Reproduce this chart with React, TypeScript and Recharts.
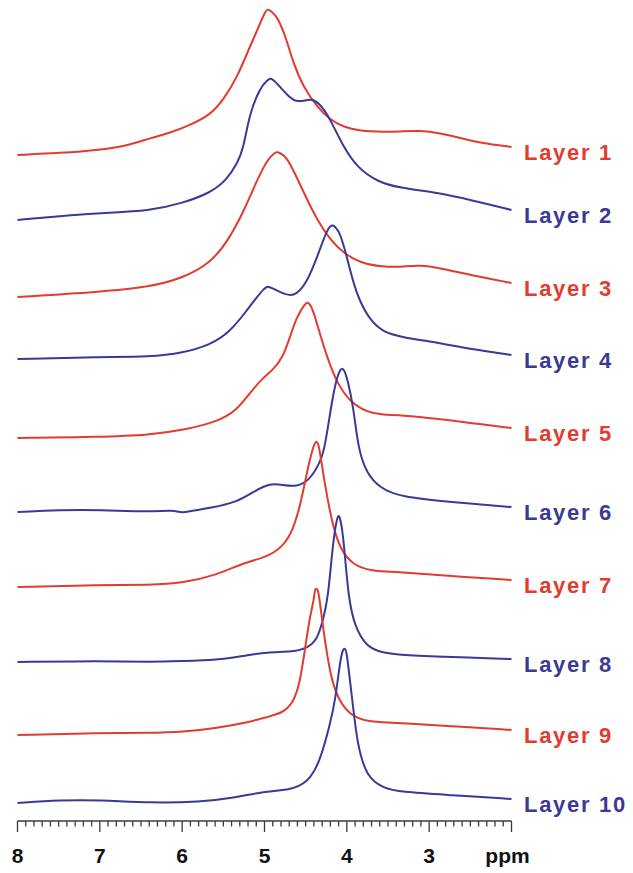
import React from 'react';
import { LineChart, Line, XAxis, YAxis } from 'recharts';

// Each layer: [chemical shift (ppm), stacked intensity (a.u.)]
const layer1: [number, number][] = [
  [8.0, 666], [7.48, 668], [7.0, 671], [6.63, 676], [6.39, 683], [6.15, 688], [5.9, 696], [5.66, 706],
  [5.5, 721], [5.33, 744], [5.18, 774], [5.05, 798], [4.99, 810], [4.96, 812], [4.92, 810], [4.84, 804],
  [4.73, 781], [4.65, 758], [4.53, 734], [4.36, 714], [4.2, 701], [4.04, 694], [3.84, 690], [3.56, 689],
  [3.35, 689.5], [3.11, 690.5], [2.87, 688], [2.62, 683], [2.38, 678], [2.0, 674],
];
const layer2: [number, number][] = [
  [8.0, 601], [7.48, 605], [7.0, 608], [6.39, 610], [5.99, 618], [5.66, 628], [5.46, 641], [5.33, 658],
  [5.26, 671], [5.18, 708], [5.05, 734], [4.96, 741], [4.93, 743], [4.89, 741], [4.81, 734], [4.69, 723],
  [4.61, 719], [4.48, 721], [4.41, 722], [4.29, 714], [4.18, 698], [4.04, 674], [3.88, 654], [3.63, 639],
  [3.35, 633], [2.87, 628], [2.5, 621], [2.0, 611],
];
const layer3: [number, number][] = [
  [8.0, 524], [7.0, 529], [6.39, 534], [5.99, 543], [5.66, 558], [5.46, 578], [5.26, 608], [5.09, 641],
  [4.97, 661], [4.88, 668], [4.85, 669], [4.81, 668], [4.73, 664], [4.61, 644], [4.48, 621], [4.36, 601],
  [4.2, 581], [4.04, 568], [3.84, 558], [3.56, 554], [3.35, 554], [3.11, 556], [2.87, 553], [2.5, 546],
  [2.0, 538],
];
const layer4: [number, number][] = [
  [8.0, 462], [7.0, 464], [6.39, 464], [5.99, 468], [5.66, 476], [5.42, 489], [5.21, 511], [5.12, 521],
  [5.0, 533], [4.96, 535], [4.91, 533], [4.81, 529], [4.65, 523], [4.48, 538], [4.33, 571], [4.24, 591],
  [4.2, 595], [4.17, 596], [4.14, 594], [4.08, 588], [4.0, 564], [3.92, 538], [3.85, 521], [3.72, 501],
  [3.56, 489], [3.35, 484], [2.87, 478], [2.5, 472], [2.0, 466],
];
const layer5: [number, number][] = [
  [8.0, 383], [7.0, 384], [6.39, 386], [5.99, 391], [5.58, 399], [5.33, 411], [5.18, 428], [5.02, 443],
  [4.9, 451], [4.78, 463], [4.69, 484], [4.61, 504], [4.51, 517], [4.48, 519], [4.45, 517], [4.41, 511],
  [4.33, 488], [4.24, 464], [4.12, 438], [3.96, 419], [3.76, 409], [3.56, 406], [3.35, 406], [2.87, 402],
  [2.5, 398], [2.0, 393],
];
const layer6: [number, number][] = [
  [8.0, 309], [7.48, 311], [7.0, 311], [6.39, 309], [6.11, 311], [6.0, 308], [5.9, 310], [5.66, 313],
  [5.33, 319], [5.14, 329], [4.93, 338], [4.78, 336], [4.61, 334], [4.45, 341], [4.33, 358], [4.27, 371],
  [4.18, 421], [4.12, 444], [4.08, 451], [4.06, 453], [4.03, 451], [3.99, 441], [3.92, 414], [3.86, 371],
  [3.76, 348], [3.6, 333], [3.35, 324], [2.75, 319], [2.0, 314],
];
const layer7: [number, number][] = [
  [8.0, 234], [7.0, 236], [6.39, 236], [5.99, 238], [5.58, 246], [5.26, 258], [4.97, 264], [4.78, 274],
  [4.65, 291], [4.55, 321], [4.48, 351], [4.42, 371], [4.39, 378], [4.37, 380], [4.35, 378], [4.33, 371],
  [4.27, 338], [4.18, 298], [4.08, 271], [3.92, 256], [3.72, 250], [3.35, 249], [2.75, 245], [2.0, 241],
];
const layer8: [number, number][] = [
  [8.0, 159], [7.0, 160], [6.39, 159], [5.99, 160], [5.58, 161], [5.26, 165], [4.97, 169], [4.65, 169],
  [4.48, 173], [4.36, 181], [4.29, 201], [4.23, 221], [4.17, 278], [4.12, 303], [4.1, 306], [4.08, 303],
  [4.04, 284], [3.98, 221], [3.9, 194], [3.76, 174], [3.56, 168], [3.35, 166], [2.75, 164], [2.0, 162],
];
const layer9: [number, number][] = [
  [8.0, 86], [7.0, 88], [6.39, 88], [5.99, 89], [5.58, 93], [5.18, 99], [4.97, 104], [4.78, 108],
  [4.65, 118], [4.57, 138], [4.51, 171], [4.45, 204], [4.4, 221], [4.39, 231], [4.37, 233], [4.35, 231],
  [4.33, 221], [4.29, 194], [4.2, 144], [4.1, 121], [3.96, 106], [3.76, 99], [3.35, 98], [2.75, 95],
  [2.0, 91],
];
const layer10: [number, number][] = [
  [8.0, 18], [7.48, 21], [7.0, 21], [6.39, 18], [5.78, 19], [5.38, 23], [4.97, 30], [4.69, 31],
  [4.48, 38], [4.33, 58], [4.2, 98], [4.14, 121], [4.08, 161], [4.05, 171], [4.03, 173], [4.01, 171],
  [3.99, 161], [3.92, 111], [3.87, 76], [3.76, 44], [3.56, 33], [3.35, 29], [2.75, 26], [2.0, 22],
];

const layerNames = ['Layer 1', 'Layer 2', 'Layer 3', 'Layer 4', 'Layer 5', 'Layer 6', 'Layer 7', 'Layer 8', 'Layer 9', 'Layer 10'];
const layerData = [layer1, layer2, layer3, layer4, layer5, layer6, layer7, layer8, layer9, layer10];
const majorTicks = [8, 7, 6, 5, 4, 3, 2];
const majorTickLabels = ['8', '7', '6', '5', '4', '3', 'ppm'];

const RED = '#E23B2F';
const BLUE = '#393A97';
const FONT = '"Liberation Sans", Arial, Helvetica, sans-serif';

const minorTicks: number[] = [];
for (let i = 20; i <= 80; i++) minorTicks.push(i / 10);

const AxisTick = (props: any) => {
  const { x, y, payload } = props;
  const v = Math.round(payload.value * 10) / 10;
  const mi = majorTicks.findIndex((m) => Math.abs(m - v) < 1e-6);
  const major = mi >= 0;
  const label = major ? majorTickLabels[mi] : '';
  return (
    <g>
      <line x1={x} x2={x} y1={y} y2={y + (major ? 11 : 5.5)} stroke="#3a3a3a" strokeWidth={1.3} />
      {major && (
        <text
          x={label === 'ppm' ? x - 4 : x}
          y={y + 42}
          textAnchor="middle"
          fontFamily={FONT}
          fontWeight="bold"
          fontSize={21}
          fill="#111"
        >
          {label}
        </text>
      )}
    </g>
  );
};

const makeEndLabel = (name: string, color: string, last: number) => (props: any) => {
  const { cx, cy, index } = props;
  if (index !== last) return <g key={`d-${index}`} />;
  return (
    <text
      key={`d-${index}`}
      x={cx + 12.5}
      y={cy + 13}
      fontFamily={FONT}
      fontWeight="bold"
      fontSize={22}
      letterSpacing={1.7}
      fill={color}
    >
      {name}
    </text>
  );
};

export default function App() {
  return (
    <div style={{ position: 'absolute', left: 0, top: 0, background: '#fff' }}>
      <LineChart width={633} height={873} margin={{ top: 0, right: 121.5, bottom: 0, left: 17.5 }}>
        <XAxis
          dataKey="ppm"
          type="number"
          domain={[2, 8]}
          reversed
          ticks={minorTicks}
          interval={0}
          tickLine={false}
          tickSize={0}
          tickMargin={0}
          height={52}
          axisLine={{ stroke: '#3a3a3a', strokeWidth: 1.5 }}
          tick={<AxisTick />}
          allowDecimals
        />
        <YAxis type="number" domain={[0, 821]} hide width={0} />
        {layerData.map((pts, i) => {
          const color = i % 2 === 0 ? RED : BLUE;
          const data = pts.map(([ppm, v]) => ({ ppm, v }));
          return (
            <Line
              key={layerNames[i]}
              data={data}
              dataKey="v"
              type="basis"
              stroke={color}
              strokeWidth={2}
              dot={makeEndLabel(layerNames[i], color, data.length - 1)}
              activeDot={false}
              isAnimationActive={false}
            />
          );
        })}
      </LineChart>
    </div>
  );
}
